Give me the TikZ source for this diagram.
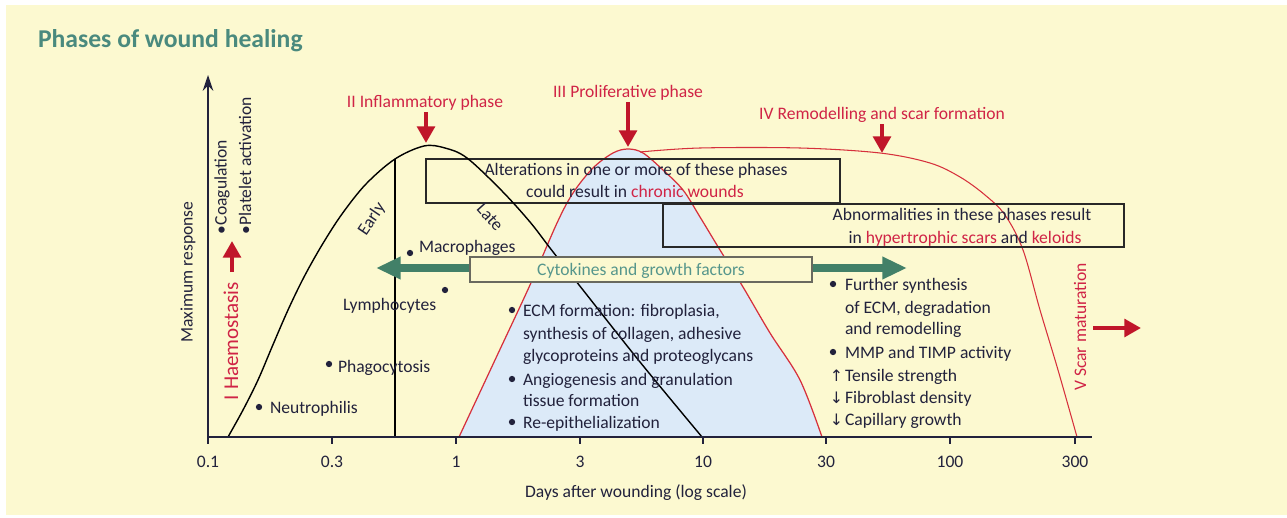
\documentclass[tikz,border=0pt]{standalone}
\usepackage{fontspec}
\setmainfont{Carlito}
\newfontfamily\arrfont{DejaVu Sans}
\usetikzlibrary{arrows.meta}
\definecolor{bgy}{RGB}{252,249,208}
\definecolor{ink}{RGB}{34,34,60}
\definecolor{teal}{RGB}{74,138,126}
\definecolor{cyt}{RGB}{86,150,140}
\definecolor{garr}{RGB}{66,128,104}
\definecolor{rtext}{RGB}{208,36,70}
\definecolor{rarr}{RGB}{192,22,42}
\definecolor{rline}{RGB}{214,48,60}
\definecolor{bluef}{RGB}{220,234,248}
\definecolor{boxc}{RGB}{40,40,40}
\definecolor{cytbox}{RGB}{105,105,95}
\begin{document}
\begin{tikzpicture}[x=0.02cm,y=-0.02cm,
  every node/.style={inner sep=0pt, outer sep=0pt},
  txt/.style={font=\fontsize{10}{12}\selectfont, text=ink},
  rtxt/.style={font=\fontsize{10}{12}\selectfont, text=rtext},
  redarrow/.style={draw=rarr, line width=2.6pt, -{Triangle[width=10pt,length=9.5pt]}},
  greenarrow/.style={draw=garr, line width=4pt, {Triangle[width=12pt,length=14pt]}-{Triangle[width=12pt,length=14pt]}},
  boxst/.style={draw=boxc, line width=0.85pt},
  dotst/.style={circle, fill=ink, minimum size=3.6pt},
  tick/.style={draw=ink, line width=0.7pt}]
\useasboundingbox (0,0) rectangle (1287,517);
\fill[white] (0,0) rectangle (1287,517);
\fill[bgy] (6,5) rectangle (1287,515);

% title
\node[anchor=base west, font=\fontsize{14.6}{16}\selectfont\bfseries, text=teal] (title) at (38,48) {Phases of wound healing};

% proliferative curve (blue fill)
\filldraw[fill=bluef, draw=rline, line width=0.7pt] plot[smooth, tension=0.55] coordinates {
 (459,437) (495,360) (530,285) (557,223) (573,193) (593,168) (613,153) (628,149) (643,153) (663,170) (683,190) (700,217) (720,250) (743,287) (770,333) (800,380) (822,437)} -- cycle;
% remodelling curve
\draw[rline, line width=0.6pt] plot[smooth, tension=0.55] coordinates {
 (640,152) (700,148) (800,148) (880,153) (930,163) (960,177) (985,195) (1005,215) (1023,250) (1040,310) (1058,370) (1077,437)};

% boxes
\node[boxst, minimum width=8.28cm, minimum height=0.88cm] (box1) at (633,181) {};
\node[boxst, minimum width=9.22cm, minimum height=0.86cm] (box2) at (893.5,225.5) {};

% inflammatory curve
\draw[black, line width=0.8pt] plot[smooth, tension=0.55] coordinates {
 (228,437) (243,410) (258,380) (272,347) (288,310) (304,277) (322,245) (342,214) (366,184) (395,159) (424,146) (445,148) (467,158) (502,191) (530,222) (550,248) (568,271) (583,290) (640,362) (702,437)};
\coordinate (vtop) at (395,159);
\coordinate (vbot) at (395,437);
\draw[black, line width=0.8pt] (vbot) -- (vtop);

% axes
\coordinate (O) at (208,437);
\coordinate (ytop) at (208,75);
\coordinate (xend) at (1092,437);
\draw[ink, line width=0.8pt, -{Stealth[length=9pt,width=6pt]}] (O) -- (ytop);
\draw[ink, line width=0.8pt] (O) -- (xend);
\foreach \x/\l in {208/0.1, 332/0.3, 456/1, 580/3, 703/10, 826/30, 950/100, 1075/300}{
  \draw[tick] (\x,437) -- (\x,444);
  \node[txt, anchor=base] (t\l) at (\x,467) {\l};
}
\node[txt, anchor=base] (xlabel) at (636,497) {Days after wounding (log scale)};
\node[txt, rotate=90] (ylabel) at (188,272) {Maximum response};

% haemostasis
\node[rtxt, font=\fontsize{12}{14}\selectfont, rotate=90] (haem) at (231,341) {I Haemostasis};
\coordinate (ha1) at (232,272);
\coordinate (ha2) at (232,241);
\draw[redarrow] (ha1) -- (ha2);
\node[txt, rotate=90, anchor=west] (coag) at (222,234) {\textbullet Coagulation};
\node[txt, rotate=90, anchor=west] (plat) at (245,234) {\textbullet Platelet activation};

% phase labels
\node[rtxt, anchor=base] (p2) at (425,108) {II Inflammatory phase};
\coordinate (a2s) at (426,112);
\coordinate (a2e) at (426,143);
\draw[redarrow] (a2s) -- (a2e);
\node[rtxt, anchor=base] (p3) at (628,97) {III Proliferative phase};
\coordinate (a3s) at (628,102);
\coordinate (a3e) at (628,147);
\draw[redarrow] (a3s) -- (a3e);
\node[rtxt, anchor=base] (p4) at (882,119) {IV Remodelling and scar formation};
\coordinate (a4s) at (882,124);
\coordinate (a4e) at (882,153);
\draw[redarrow] (a4s) -- (a4e);
\node[rtxt, rotate=90] (p5) at (1080,327) {V Scar maturation};
\coordinate (a5s) at (1093,328);
\coordinate (a5e) at (1141,328);
\draw[redarrow] (a5s) -- (a5e);

% early / late
\node[txt, rotate=56] (early) at (372,219) {Early};
\node[txt, rotate=-48] (late) at (490,217) {Late};

% cells
\node[dotst] (d1) at (410,253) {};
\node[txt, anchor=base west] (mac) at (419,252) {Macrophages};
\node[dotst] (d2) at (445,290) {};
\node[txt, anchor=base west] (lym) at (343,310) {Lymphocytes};
\node[dotst] (d3) at (329,364) {};
\node[txt, anchor=base west] (pha) at (338,372) {Phagocytosis};
\node[dotst] (d4) at (259,407) {};
\node[txt, anchor=base west] (neu) at (270,413) {Neutrophilis};

% box texts
\node[txt, anchor=base] (b1a) at (636,175) {Alterations in one or more of these phases};
\node[txt, anchor=base] (b1b) at (635,197) {could result in \textcolor{rtext}{chronic wounds}};
\node[txt, anchor=base] (b2a) at (962,220) {Abnormalities in these phases result};
\node[txt, anchor=base] (b2b) at (965,243) {in \textcolor{rtext}{hypertrophic scars} and \textcolor{rtext}{keloids}};

% green arrow and cytokines box
\coordinate (gl) at (376,268);
\coordinate (gr) at (907,268);
\draw[greenarrow] (gl) -- (gr);
\node[draw=cytbox, fill=bgy, line width=0.85pt, minimum width=6.84cm, minimum height=0.5cm] (cyto) at (641,269.5) {};
\node[font=\fontsize{10}{12}\selectfont, text=cyt, anchor=base] (cytot) at (641,275) {Cytokines and growth factors};

% proliferative list
\node[dotst] (e1) at (512,310) {};
\node[txt, anchor=base west] (l1) at (523,316) {ECM formation: fibroplasia,};
\node[txt, anchor=base west] (l2) at (523,339) {synthesis of collagen, adhesive};
\node[txt, anchor=base west] (l3) at (523,361) {glycoproteins and proteoglycans};
\node[dotst] (e2) at (512,379) {};
\node[txt, anchor=base west] (l4) at (523,385) {Angiogenesis and granulation};
\node[txt, anchor=base west] (l5) at (523,406) {tissue formation};
\node[dotst] (e3) at (512,422) {};
\node[txt, anchor=base west] (l6) at (523,428) {Re-epithelialization};

% remodelling list
\node[dotst] (f1) at (833,284) {};
\node[txt, anchor=base west] (r1) at (845,290) {Further synthesis};
\node[txt, anchor=base west] (r2) at (845,313) {of ECM, degradation};
\node[txt, anchor=base west] (r3) at (845,334) {and remodelling};
\node[dotst] (f2) at (833,352) {};
\node[txt, anchor=base west] (r4) at (845,358) {MMP and TIMP activity};
\node[txt, anchor=base east, font=\arrfont\fontsize{9}{11}\selectfont] (u1) at (843,381) {↑};
\node[txt, anchor=base west] (r5) at (845,381) {Tensile strength};
\node[txt, anchor=base east, font=\arrfont\fontsize{9}{11}\selectfont] (u2) at (843,403) {↓};
\node[txt, anchor=base west] (r6) at (845,403) {Fibroblast density};
\node[txt, anchor=base east, font=\arrfont\fontsize{9}{11}\selectfont] (u3) at (843,425) {↓};
\node[txt, anchor=base west] (r7) at (845,425) {Capillary growth};
\end{tikzpicture}
\end{document}
